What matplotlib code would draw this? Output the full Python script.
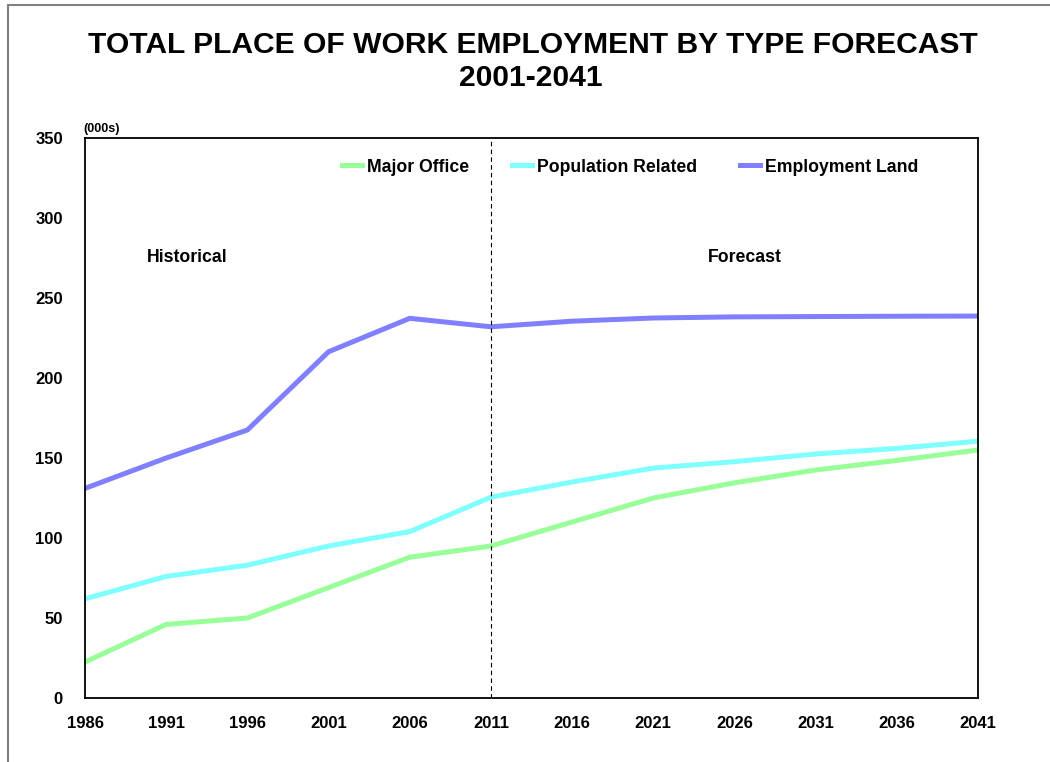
import matplotlib
matplotlib.use("Agg")
import matplotlib.pyplot as plt
from matplotlib.patches import Rectangle

plt.rcParams["font.family"] = ["Liberation Sans", "DejaVu Sans"]
plt.rcParams["font.weight"] = "bold"

# DATOS DEL GRAFICO (miles de empleos)
anios = [1986, 1991, 1996, 2001, 2006, 2011, 2016, 2021, 2026, 2031, 2036, 2041]
major_office = [22.5, 46, 50, 69, 88, 95, 110, 125, 134.5, 142.5, 148.5, 155]
population_related = [62, 76, 83, 95, 104, 125.5, 135, 143.7, 147.7, 152.5, 156, 160.5]
employment_land = [131, 150, 167.5, 216.4, 237.3, 232, 235.5, 237.5, 238.2, 238.4, 238.6, 238.7]

fig = plt.figure(figsize=(10.5, 7.62), dpi=100)

# MARCO GRIS DEL AREA DEL GRAFICO
fig.patches.append(Rectangle((8 / 1050, -0.05), 1.1, 1 - 5 / 762 + 0.05,
                             transform=fig.transFigure, fill=False,
                             edgecolor="#808080", linewidth=1.5))

ax = fig.add_axes([85 / 1050, 1 - 698 / 762, 893 / 1050, 560 / 762])

ax.plot(anios, major_office, color="#99FF99", linewidth=3.6, label="Major Office")
ax.plot(anios, population_related, color="#80FFFF", linewidth=3.6, label="Population Related")
ax.plot(anios, employment_land, color="#8080FF", linewidth=3.6, label="Employment Land")

# LINEA DIVISORIA HISTORICO / PRONOSTICO
ax.axvline(2011, color="black", linewidth=0.8, linestyle=(0, (4, 3)))

ax.set_xlim(1986, 2041)
ax.set_ylim(0, 350)
ax.set_xticks(anios)
ax.set_yticks(range(0, 351, 50))
ax.tick_params(length=0, labelsize=12)
ax.tick_params(axis="x", pad=13)
ax.tick_params(axis="y", pad=16)
for lbl in ax.get_xticklabels() + ax.get_yticklabels():
    lbl.set_fontweight("bold")
for s in ax.spines.values():
    s.set_linewidth(1.3)
    s.set_color("black")

ax.text(1992.3, 275, "Historical", fontsize=12.7, fontweight="bold",
        ha="center", va="center")
ax.text(2026.65, 275, "Forecast", fontsize=12.7, fontweight="bold",
        ha="center", va="center")
ax.text(-0.002, 1.006, "(000s)", transform=ax.transAxes, fontsize=9,
        fontweight="bold", ha="left", va="bottom")

ax.legend(loc="center left", bbox_to_anchor=((342 - 85) / 893, 0.948), ncol=3,
          frameon=False, fontsize=12.7, handlelength=1.15, handletextpad=0.25,
          columnspacing=2.45, borderaxespad=0, borderpad=0)

fig.text(533 / 1050, 1 - 45 / 762, "TOTAL PLACE OF WORK EMPLOYMENT BY TYPE FORECAST",
         fontsize=21.6, fontweight="bold", ha="center", va="center")
fig.text(531 / 1050, 1 - 78 / 762, "2001-2041",
         fontsize=21.6, fontweight="bold", ha="center", va="center")

fig.savefig("out.png", dpi=100)
